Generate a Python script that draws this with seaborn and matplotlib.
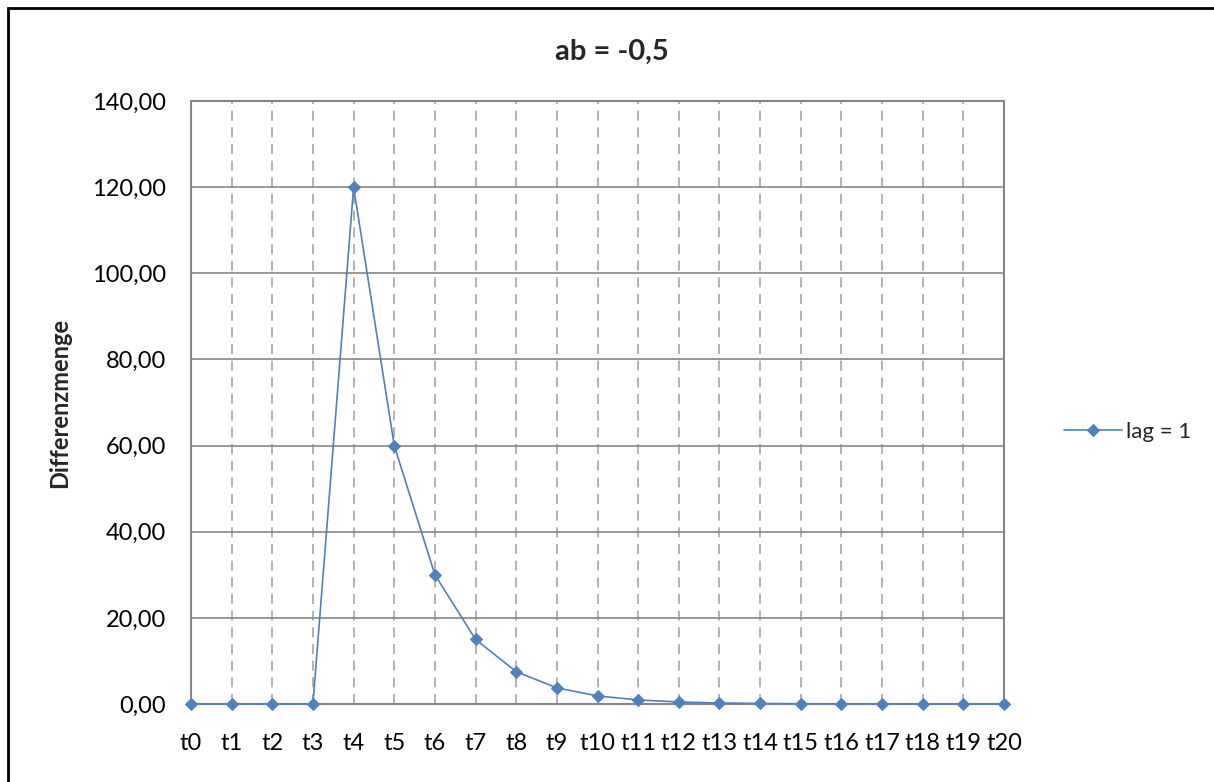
import seaborn as sns
import numpy as np
import pandas as pd
import matplotlib.pyplot as plt
from matplotlib.patches import Rectangle

labels = ["t%d" % i for i in range(21)]
values = [0, 0, 0, 0, 120, 60, 30, 15, 7.5, 3.75, 1.875, 0.9375, 0.46875,
          0.234375, 0.1171875, 0.0585938, 0.0292969, 0.0146484, 0.0073242,
          0.0036621, 0.0018311]
yticks = [0, 20, 40, 60, 80, 100, 120, 140]

sns.set_style("white")
plt.rcParams['font.family'] = ['Lato', 'DejaVu Sans']

df = pd.DataFrame({"t": labels, "Differenzmenge": values})

fig = plt.figure(figsize=(12.14, 7.82), dpi=100)
ax = fig.add_axes([191/1214, 1-704/782, (1004-191)/1214, (704-101)/782])

sns.lineplot(data=df, x=np.arange(len(labels)), y="Differenzmenge", ax=ax,
             color="#4F81BD", lw=1.2, marker="D", markersize=6,
             markeredgecolor="#4F81BD", label="lag = 1", sort=False,
             zorder=5, clip_on=False)

ax.set_xlim(0, 20)
ax.set_ylim(0, 140)
ax.set_xticks(np.arange(len(labels)))
ax.set_xticklabels(labels)
ax.set_yticks(yticks)
ax.set_yticklabels([("%.2f" % v).replace(".", ",") for v in yticks])
ax.tick_params(length=0, labelsize=17, colors="black")
ax.tick_params(axis="x", pad=21)
ax.tick_params(axis="y", pad=18)
ax.set_xlabel("")
ax.set_ylabel("")

ax.yaxis.grid(True, color="#868686", lw=1.2, ls="-")
ax.xaxis.grid(True, color="#A6A6A6", lw=1.2, ls=(0, (6, 4)))
ax.set_axisbelow(True)
for s in ax.spines.values():
    s.set_color("#868686")
    s.set_linewidth(1.5)

leg = ax.legend(loc="center left", bbox_to_anchor=(1055/1214, 1-432/782),
                bbox_transform=fig.transFigure, frameon=False, fontsize=16,
                handlelength=2.6, handletextpad=0.2, borderaxespad=0)

fig.text(612/1214, 1-52/782, "ab = -0,5", ha="center", va="center",
         fontsize=21, fontweight="bold")
fig.text(60/1214, 1-403/782, "Differenzmenge", ha="center", va="center",
         rotation=90, fontsize=17, fontweight="bold")

fig.patches.append(Rectangle((8/1214, -0.1), 1.2, 1.1 - 8/782,
                             transform=fig.transFigure, fill=False,
                             edgecolor="black", lw=2))

fig.savefig("out.png", dpi=100)
